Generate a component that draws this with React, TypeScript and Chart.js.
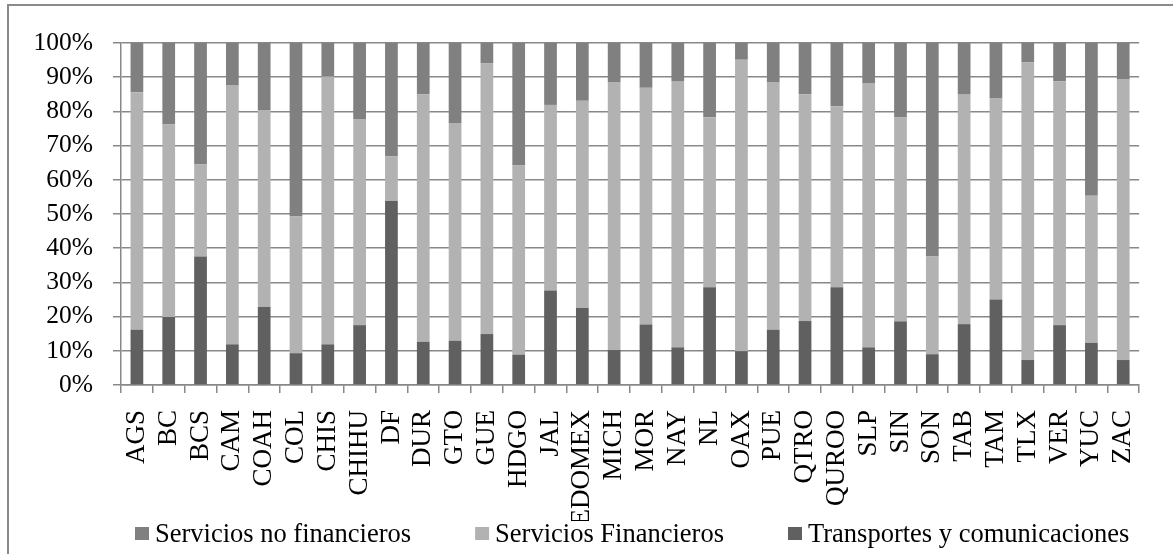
import React, { useEffect, useRef } from "react";
import { Chart, registerables } from "chart.js";

Chart.register(...registerables);

const categories = [
  "AGS", "BC", "BCS", "CAM", "COAH", "COL", "CHIS", "CHIHU", "DF", "DUR", "GTO",
  "GUE", "HDGO", "JAL", "EDOMEX", "MICH", "MOR", "NAY", "NL", "OAX", "PUE", "QTRO",
  "QUROO", "SLP", "SIN", "SON", "TAB", "TAM", "TLX", "VER", "YUC", "ZAC",
];

const transportes = [
  16.2, 19.9, 37.6, 11.9, 22.8, 9.3, 11.9, 17.5, 53.9, 12.6, 12.9,
  14.9, 8.9, 27.6, 22.5, 10.2, 17.7, 11.0, 28.6, 9.9, 16.2, 18.7,
  28.6, 11.0, 18.6, 9.0, 17.8, 25.0, 7.3, 17.5, 12.3, 7.3,
];

const financieros = [
  69.4, 56.3, 26.9, 75.8, 57.6, 40.0, 78.3, 60.3, 13.0, 72.4, 63.7,
  79.1, 55.3, 54.3, 60.6, 78.4, 69.2, 77.7, 49.7, 85.2, 72.4, 66.3,
  52.9, 77.3, 59.6, 28.6, 67.1, 58.9, 87.0, 71.3, 43.0, 82.0,
];

const noFinancieros = [
  14.4, 23.8, 35.5, 12.3, 19.6, 50.7, 9.8, 22.2, 33.1, 15.0, 23.4,
  6.0, 35.8, 18.1, 16.9, 11.4, 13.1, 11.3, 21.7, 4.9, 11.4, 15.0,
  18.5, 11.7, 21.8, 62.4, 15.1, 16.1, 5.7, 11.2, 44.7, 10.7,
];

const seriesLabels = [
  "Transportes y comunicaciones",
  "Servicios Financieros",
  "Servicios no financieros",
];

const FONT = "'Liberation Serif', 'Times New Roman', serif";

const legendPlugin = {
  id: "excelLegend",
  afterDraw(chart: any) {
    const ctx = chart.ctx;
    const items = chart.data.datasets
      .map((d: any) => ({ label: d.label, color: d.backgroundColor }))
      .reverse();
    ctx.save();
    ctx.font = `26.5px ${FONT}`;
    ctx.textBaseline = "alphabetic";
    ctx.textAlign = "left";
    let x = chart.chartArea.left + 14;
    const boxTop = chart.height - 27;
    const baseline = chart.height - 12.5;
    for (const it of items) {
      ctx.fillStyle = it.color;
      ctx.fillRect(x, boxTop, 14, 13);
      ctx.fillStyle = "#000";
      ctx.fillText(it.label, x + 20, baseline);
      x += 20 + ctx.measureText(it.label).width + 64;
    }
    ctx.restore();
  },
};

export default function App() {
  const ref = useRef<HTMLCanvasElement>(null);

  useEffect(() => {
    if (!ref.current) return;
    const chart = new Chart(ref.current, {
      type: "bar",
      data: {
        labels: categories,
        datasets: [
          { label: seriesLabels[0], data: transportes, backgroundColor: "#606060" },
          { label: seriesLabels[1], data: financieros, backgroundColor: "#b2b2b2" },
          { label: seriesLabels[2], data: noFinancieros, backgroundColor: "#808080" },
        ],
      },
      options: {
        responsive: false,
        devicePixelRatio: 1,
        animation: false,
        layout: { padding: { left: 33, right: 25, top: 43, bottom: 33 } },
        datasets: {
          bar: { barPercentage: 0.4, categoryPercentage: 1, borderWidth: 0 },
        },
        plugins: {
          legend: { display: false },
          tooltip: { enabled: false },
          title: { display: false },
        },
        scales: {
          x: {
            stacked: true,
            afterFit: (scale: any) => {
              scale.height = 136;
            },
            grid: {
              display: true,
              drawOnChartArea: false,
              drawTicks: true,
              tickLength: 8,
              color: "#888888",
              lineWidth: 1.5,
              offset: true,
            },
            border: { display: true, color: "#888888", width: 1.5 },
            ticks: {
              autoSkip: false,
              maxRotation: 90,
              minRotation: 90,
              padding: 17,
              color: "#000",
              font: { family: FONT, size: 27 },
            },
          },
          y: {
            stacked: true,
            min: 0,
            max: 100,
            afterFit: (scale: any) => {
              scale.width = 88;
            },
            grid: {
              display: true,
              drawTicks: true,
              tickLength: 8,
              color: "#888888",
              lineWidth: 1.5,
            },
            border: { display: true, color: "#888888", width: 1.5 },
            ticks: {
              stepSize: 10,
              autoSkip: false,
              padding: 20,
              color: "#000",
              font: { family: FONT, size: 25.5 },
              callback: (v: any) => `${v}%`,
            },
          },
        },
      },
      plugins: [legendPlugin],
    });
    return () => chart.destroy();
  }, []);

  return (
    <div
      style={{
        position: "absolute",
        left: 0,
        top: 0,
        width: 1173,
        height: 554,
        background: "#fff",
        overflow: "hidden",
      }}
    >
      <canvas ref={ref} width={1173} height={554} style={{ display: "block" }} />
      <div
        style={{
          position: "absolute",
          left: 7,
          top: 4,
          width: 1200,
          height: 600,
          border: "2px solid #8a8a8a",
          pointerEvents: "none",
        }}
      />
    </div>
  );
}
